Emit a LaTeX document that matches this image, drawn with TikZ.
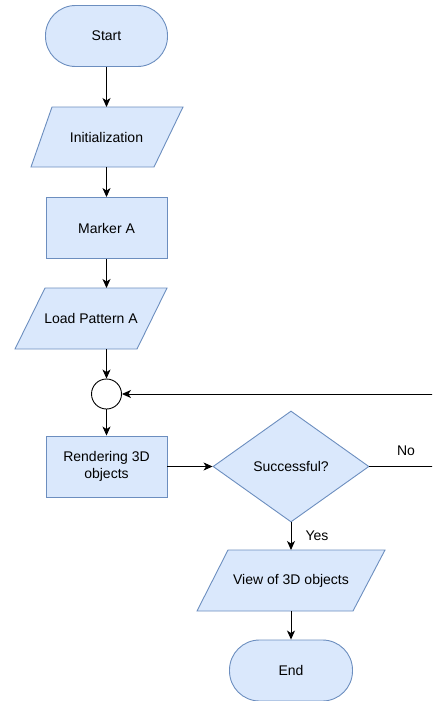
\documentclass[tikz,border=0pt]{standalone}
\usepackage{fontspec}
\setmainfont{Liberation Sans}
\usetikzlibrary{arrows.meta,calc,shapes.geometric}
\definecolor{boxfill}{HTML}{DAE8FC}
\definecolor{boxline}{HTML}{6C8EBF}
\tikzset{
  base/.style={font=\fontsize{14}{17}\selectfont, text=black, align=center, inner sep=0pt},
  procbox/.style={base, draw=boxline, fill=boxfill, line width=0.9pt, minimum width=121pt, minimum height=61pt},
  termbox/.style={base, draw=boxline, fill=boxfill, line width=0.9pt, rounded corners=30pt, minimum width=122pt, minimum height=61pt},
  iobox/.style={base, minimum height=61pt},
  iodraw/.style={draw=boxline, fill=boxfill, line width=0.9pt, line join=miter},
  decbox/.style={base, draw=boxline, fill=boxfill, line width=0.9pt, diamond, minimum width=156pt, minimum height=111pt},
  joinbox/.style={circle, draw=black, fill=white, line width=0.9pt, minimum size=30pt, inner sep=0pt},
  arr/.style={draw=black, line width=0.9pt, -{Stealth[length=9pt,width=8pt,inset=2.5pt]}},
  lbl/.style={font=\fontsize{14}{17}\selectfont, text=black, inner sep=0pt}
}
\begin{document}
\begin{tikzpicture}[x=1pt,y=-1pt]
\useasboundingbox (0,0) rectangle (432,701);
\clip (0,0) rectangle (432,701);
% terminals and boxes
\node[termbox] (start) at (106.5,36) {Start};
% Initialization parallelogram
\path[iodraw] (52,107) -- (183,107) -- (154,167) -- (31,167) -- cycle;
\node[iobox, minimum width=123pt] (init) at (106.5,137) {Initialization};
\node[procbox] (marker) at (106.5,228) {Marker A};
% Load pattern parallelogram
\path[iodraw] (45,288) -- (167,288) -- (137,349) -- (15,349) -- cycle;
\node[iobox, minimum width=122pt] (load) at (91,318.5) {Load Pattern A};
\node[joinbox] (join) at (106.5,394) {};
\node[procbox] (render) at (106.5,466.5) {Rendering 3D\\objects};
\node[decbox] (dec) at (291,466.5) {Successful?};
% View parallelogram
\path[iodraw] (228,550) -- (385,550) -- (353,611) -- (197,611) -- cycle;
\node[iobox, minimum width=156pt] (view) at (291,580.5) {View of 3D objects};
\node[termbox, minimum width=123pt] (end) at (291,670.5) {End};
% connectors
\coordinate (initT) at (106.5,107);
\coordinate (initB) at (106.5,167);
\coordinate (loadT) at (106.5,288);
\coordinate (loadB) at (106.5,349);
\coordinate (viewT) at (291,550);
\coordinate (viewB) at (291,611);
\coordinate (loopR) at (445,466.5);
\draw[arr] (start.south) -- (initT);
\draw[arr] (initB) -- (marker.north);
\draw[arr] (marker.south) -- (loadT);
\draw[arr] (loadB) -- (join.north);
\draw[arr] (join.south) -- (render.north);
\draw[arr] (render.east) -- (dec.west);
\draw[arr] (dec.south) -- (viewT);
\draw[arr] (viewB) -- (end.north);
\draw[arr] (dec.east) -- (loopR) |- (join.east);
% labels
\node[lbl] (no) at (406,451) {No};
\node[lbl] (yes) at (317,536) {Yes};
\end{tikzpicture}
\end{document}
